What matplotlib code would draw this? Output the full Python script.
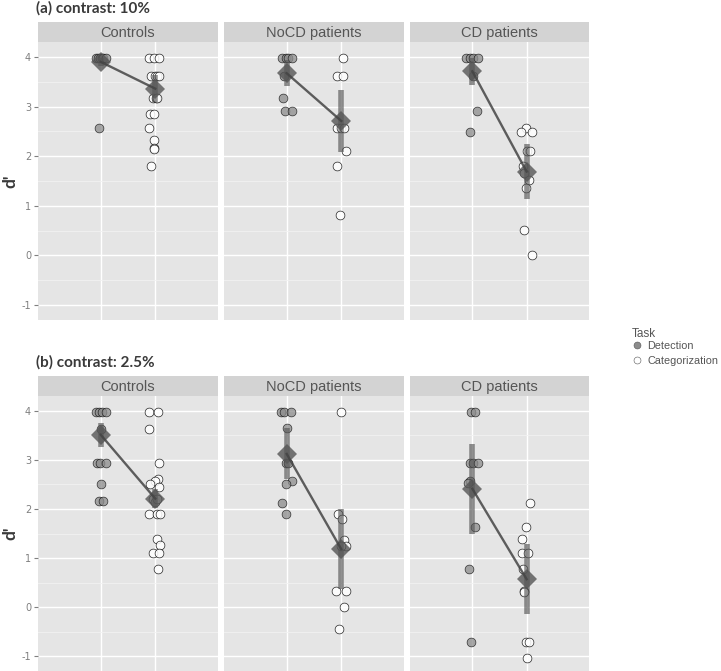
import numpy as np
import matplotlib
matplotlib.use("Agg")
import matplotlib.pyplot as plt
from matplotlib.lines import Line2D

plt.rcParams["axes.unicode_minus"] = False

# groups / tasks
groups = ["Controls", "NoCD patients", "CD patients"]
tasks = ["Detection", "Categorization"]
panel_titles = ["(a) contrast: 10%", "(b) contrast: 2.5%"]
y_ticks = [4, 3, 2, 1, 0, -1]

# (a) contrast 10% -- individual d' values and their horizontal jitter
a_ctrl_det = [3.97, 3.97, 3.97, 3.97, 3.97, 3.97, 2.56]
a_ctrl_det_dx = [-0.09, -0.05, -0.02, 0.02, 0.05, 0.09, -0.04]
a_ctrl_cat = [3.98, 3.98, 3.98, 3.61, 3.61, 3.61, 3.61, 3.17, 3.17, 3.17,
              2.84, 2.84, 2.56, 2.32, 2.17, 2.15, 1.80]
a_ctrl_cat_dx = [-0.11, -0.02, 0.07, -0.08, -0.01, 0.04, 0.07, -0.05, 0.01, 0.04,
                 -0.09, -0.03, -0.11, -0.03, -0.03, -0.02, -0.07]

a_nocd_det = [3.98, 3.98, 3.98, 3.98, 3.61, 3.17, 2.92, 2.92]
a_nocd_det_dx = [-0.08, -0.02, 0.03, 0.09, -0.05, -0.06, -0.04, 0.10]
a_nocd_cat = [3.98, 3.61, 3.61, 2.57, 2.57, 2.57, 2.11, 1.80, 0.82]
a_nocd_cat_dx = [0.04, -0.08, 0.03, -0.08, -0.01, 0.05, 0.09, -0.07, -0.03]

a_cd_det = [3.98, 3.98, 3.98, 3.98, 3.62, 2.92, 2.48]
a_cd_det_dx = [-0.11, -0.04, 0.02, 0.10, 0.02, 0.09, -0.04]
a_cd_cat = [2.57, 2.48, 2.48, 2.11, 2.11, 1.80, 1.67, 1.52, 1.35, 0.51, 0.0]
a_cd_cat_dx = [-0.02, -0.10, 0.09, 0.01, 0.06, -0.07, -0.05, 0.04, -0.01, -0.05, 0.09]

# (b) contrast 2.5%
b_ctrl_det = [3.98, 3.98, 3.98, 3.98, 3.62, 2.94, 2.94, 2.94, 2.50, 2.17, 2.17]
b_ctrl_det_dx = [-0.09, -0.03, 0.03, 0.09, 0.0, -0.07, -0.01, 0.09, 0.0, -0.03, 0.05]
b_ctrl_cat = [3.98, 3.98, 3.62, 2.94, 2.60, 2.57, 2.50, 2.45, 2.20, 2.15, 2.20,
              1.90, 1.90, 1.90, 1.39, 1.27, 1.11, 1.11, 0.78]
b_ctrl_cat_dx = [-0.11, 0.05, -0.11, 0.07, 0.05, 0.0, -0.10, 0.07, -0.05, 0.0, 0.04,
                 -0.11, 0.04, 0.08, 0.04, 0.08, -0.04, 0.07, 0.05]

b_nocd_det = [3.98, 3.98, 3.98, 3.64, 2.94, 2.94, 2.57, 2.50, 2.13, 1.90]
b_nocd_det_dx = [-0.11, -0.05, 0.07, 0.0, -0.02, 0.03, 0.09, -0.02, -0.08, -0.01]
b_nocd_cat = [3.98, 1.90, 1.80, 1.36, 1.25, 1.25, 0.33, 0.33, 0.0, -0.45]
b_nocd_cat_dx = [0.0, -0.06, 0.01, 0.05, 0.09, -0.01, -0.09, 0.08, 0.05, -0.04]

b_cd_det = [3.98, 3.98, 2.94, 2.94, 2.94, 2.57, 2.52, 1.64, 0.78, -0.70]
b_cd_det_dx = [-0.02, 0.04, -0.05, 0.01, 0.10, -0.05, -0.08, 0.04, -0.06, -0.02]
b_cd_cat = [2.12, 1.64, 1.38, 1.10, 1.10, 0.78, 0.33, 0.30, -0.70, -0.70, -1.03]
b_cd_cat_dx = [0.06, -0.02, -0.08, -0.08, 0.03, -0.06, -0.04, -0.05, -0.02, 0.04, 0.0]

# group means and error half-widths (Controls, NoCD, CD)
a_det_mean = [3.90, 3.67, 3.71]
a_det_err = [0.08, 0.26, 0.27]
a_cat_mean = [3.36, 2.71, 1.69]
a_cat_err = [0.27, 0.62, 0.56]
b_det_mean = [3.51, 3.12, 2.41]
b_det_err = [0.25, 0.52, 0.92]
b_cat_mean = [2.21, 1.18, 0.57]
b_cat_err = [0.20, 0.81, 0.71]

panels = [
    {"det": [(a_ctrl_det, a_ctrl_det_dx), (a_nocd_det, a_nocd_det_dx), (a_cd_det, a_cd_det_dx)],
     "cat": [(a_ctrl_cat, a_ctrl_cat_dx), (a_nocd_cat, a_nocd_cat_dx), (a_cd_cat, a_cd_cat_dx)],
     "means": (a_det_mean, a_det_err, a_cat_mean, a_cat_err)},
    {"det": [(b_ctrl_det, b_ctrl_det_dx), (b_nocd_det, b_nocd_det_dx), (b_cd_det, b_cd_det_dx)],
     "cat": [(b_ctrl_cat, b_ctrl_cat_dx), (b_nocd_cat, b_nocd_cat_dx), (b_cd_cat, b_cd_cat_dx)],
     "means": (b_det_mean, b_det_err, b_cat_mean, b_cat_err)},
]

W, H = 721, 671
fig = plt.figure(figsize=(W / 100, H / 100), dpi=100)


def add_px_axes(x0, y0, x1, y1):
    return fig.add_axes([x0 / W, 1 - y1 / H, (x1 - x0) / W, (y1 - y0) / H])


facet_x = [(38, 218), (224, 404), (410, 589)]
panel_y = [(22, 42, 320), (376, 396, 671)]   # strip top, plot top, plot bottom
title_y = [8, 362]

for p, panel in enumerate(panels):
    strip_top, plot_top, plot_bot = panel_y[p]
    det_mean, det_err, cat_mean, cat_err = panel["means"]
    fig.text(36 / W, 1 - title_y[p] / H, panel_titles[p], fontsize=11,
             fontweight="bold", family="Lato", color="#3a3a3a", va="center")
    fig.text(10 / W, 1 - ((plot_top + plot_bot) / 2) / H, "d'", fontsize=12.5,
             fontweight="bold", family="Lato", color="#3a3a3a",
             rotation=90, va="center", ha="center")
    for g in range(3):
        x0, x1 = facet_x[g]
        # strip
        sax = add_px_axes(x0, strip_top, x1, plot_top)
        sax.set_facecolor("#d3d3d3")
        sax.set_xticks([])
        sax.set_yticks([])
        for s in sax.spines.values():
            s.set_visible(False)
        sax.text(0.5, 0.47, groups[g], ha="center", va="center", fontsize=10.5,
                 family="Liberation Sans", color="#555555", transform=sax.transAxes)

        ax = add_px_axes(x0, plot_top, x1, plot_bot)
        ax.set_facecolor("#e5e5e5")
        for s in ax.spines.values():
            s.set_visible(False)
        ax.set_xticks([1, 2])
        ax.set_yticks(y_ticks)
        ax.set_yticks([-0.5, 0.5, 1.5, 2.5, 3.5], minor=True)
        ax.set_xlim(-0.15, 3.15)
        ax.set_ylim(-1.3, 4.3)
        ax.grid(True, which="major", color="white", linewidth=1.0)
        ax.grid(True, which="minor", axis="y", color="#f2f2f2", linewidth=0.6)
        ax.set_axisbelow(True)
        ax.tick_params(axis="x", which="both", length=0, labelbottom=False)
        ax.tick_params(axis="y", which="minor", length=0)
        if g == 0:
            ax.tick_params(axis="y", which="major", length=3, color="#7f7f7f",
                           labelsize=7, labelcolor="#7f7f7f", pad=2)
        else:
            ax.tick_params(axis="y", which="major", length=0, labelleft=False)

        dv, ddx = panel["det"][g]
        cv, cdx = panel["cat"][g]
        ax.scatter(1 + np.array(ddx), dv, s=40, facecolor="#8c8c8c", edgecolor="black",
                   linewidth=0.5, alpha=0.75, zorder=3)
        ax.scatter(2 + np.array(cdx), cv, s=40, facecolor="white", edgecolor="black",
                   linewidth=0.5, alpha=0.85, zorder=3)

        # error bars and means
        for xpos, m, e in [(1, det_mean[g], det_err[g]), (2, cat_mean[g], cat_err[g])]:
            ax.plot([xpos, xpos], [m - e, m + e], color="#555555", linewidth=4,
                    alpha=0.65, solid_capstyle="butt", zorder=4)
        ax.plot([1, 2], [det_mean[g], cat_mean[g]], linestyle="none", marker="D",
                markersize=10, color="#555555", alpha=0.8, markeredgewidth=0, zorder=5)
        ax.plot([1, 2], [det_mean[g], cat_mean[g]], color="#444444", linewidth=1.7,
                alpha=0.85, zorder=6)

# legend
fig.text(632 / W, 1 - 334 / H, "Task", fontsize=8.5, family="Liberation Sans",
         color="#555555", va="center")
handles = [Line2D([], [], linestyle="none", marker="o", markersize=5,
                  markerfacecolor="#8c8c8c", markeredgecolor="#555555", markeredgewidth=0.4),
           Line2D([], [], linestyle="none", marker="o", markersize=5,
                  markerfacecolor="white", markeredgecolor="#555555", markeredgewidth=0.4)]
leg = fig.legend(handles, tasks, loc="upper left", bbox_to_anchor=(632 / W, 1 - 341 / H),
                 frameon=False, fontsize=7.8, handlelength=1.0, handletextpad=0.4,
                 labelspacing=0.45, borderpad=0, borderaxespad=0)
for t in leg.get_texts():
    t.set_color("#555555")
    t.set_family("Liberation Sans")

fig.savefig("out.png", dpi=100)
